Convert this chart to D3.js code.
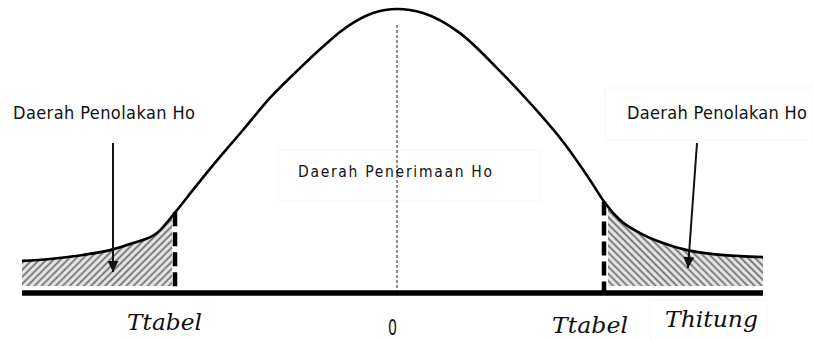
<!DOCTYPE html>
<html>
<head>
<meta charset="utf-8">
<script src="https://cdn.jsdelivr.net/npm/d3@7"></script>
<style>
  html, body { margin: 0; padding: 0; background: #ffffff; }
  svg { display: block; }
  .lbl { font-family: "DejaVu Sans Condensed", "DejaVu Sans", sans-serif; font-stretch: condensed; fill: #111; }
  .math { font-family: "DejaVu Serif", serif; font-style: italic; fill: #111; }
</style>
</head>
<body>
<svg id="chart" width="814" height="339"></svg>
<script>
// t-statistic positions along the horizontal axis
const tValues = [-3.75, -3.47, -3.14, -2.87, -2.64, -2.40, -2.20, -2.04, -1.87, -1.54, -1.27, -0.97, -0.70, -0.57, -0.44, -0.24, 0,
                 0.26, 0.63, 1.00, 1.33, 1.67, 1.93, 2.08, 2.23, 2.43, 2.66, 2.90, 3.16, 3.43, 3.66];
// relative height of the distribution curve at each t
const density = [0.113, 0.120, 0.134, 0.151, 0.176, 0.211, 0.292, 0.363, 0.437, 0.574, 0.687, 0.792, 0.880, 0.919, 0.951, 0.986, 1.000,
                 0.986, 0.915, 0.792, 0.669, 0.528, 0.398, 0.317, 0.257, 0.211, 0.176, 0.151, 0.137, 0.130, 0.127];

// critical values (left and right)
const criticalT = [-2.22, 2.07];
const tickLabels = ["Ttabel", "0", "Ttabel", "Thitung"];
const tickPositions = [-2.70, -0.09, 1.55, 2.68];
const regionLabels = ["Daerah Penolakan Ho", "Daerah Penerimaan Ho", "Daerah Penolakan Ho"];
const regionLabelPos = [[-3.84, 0.613], [-0.99, 0.408], [2.30, 0.613]];
// arrows pointing into the rejection regions: [tStart, hStart, tEnd, hEnd]
const arrows = [[-2.84, 0.528, -2.84, 0.074], [3.00, 0.528, 2.91, 0.088]];

const svg = d3.select("#chart");
const x = d3.scaleLinear().domain([-3.75, 3.67]).range([22, 764]);
const y = d3.scaleLinear().domain([0, 1]).range([293, 9]);

const pts = tValues.map((t, i) => [t, density[i]]);
const heightAt = t => {
  const i = d3.bisector(d => d[0]).right(pts, t);
  const a = pts[Math.max(0, i - 1)], b = pts[Math.min(pts.length - 1, i)];
  if (a[0] === b[0]) return a[1];
  return a[1] + (b[1] - a[1]) * (t - a[0]) / (b[0] - a[0]);
};

const defs = svg.append("defs");
function hatch(id, angle) {
  const p = defs.append("pattern").attr("id", id)
    .attr("patternUnits", "userSpaceOnUse").attr("width", 5).attr("height", 5)
    .attr("patternTransform", `rotate(${angle})`);
  p.append("rect").attr("width", 5).attr("height", 5).attr("fill", "#e8e8e8");
  p.append("line").attr("x1", 1.5).attr("y1", 0).attr("x2", 1.5).attr("y2", 5)
    .attr("stroke", "#666").attr("stroke-width", 1.7);
}
hatch("hatchL", 45);
hatch("hatchR", -45);

defs.append("clipPath").attr("id", "clipL").append("rect")
  .attr("x", x(-3.75)).attr("y", 0).attr("width", x(criticalT[0]) - x(-3.75) - 3).attr("height", 339);
defs.append("clipPath").attr("id", "clipR").append("rect")
  .attr("x", x(criticalT[1]) + 4).attr("y", 0).attr("width", x(3.66) - x(criticalT[1]) - 4).attr("height", 339);

const marker = defs.append("marker").attr("id", "head")
  .attr("viewBox", "0 0 10 10").attr("refX", 10).attr("refY", 5)
  .attr("markerUnits", "userSpaceOnUse").attr("markerWidth", 14).attr("markerHeight", 11)
  .attr("orient", "auto");
marker.append("path").attr("d", "M0,0 L10,5 L0,10 Z").attr("fill", "#111");

// faint panels behind some labels
const panels = [[-1.19, 0.504, 1.43, 0.324], [2.08, 0.722, 4.17, 0.539], [2.53, -0.025, 3.70, -0.162]];
svg.append("g").selectAll("rect").data(panels).join("rect")
  .attr("x", d => x(d[0])).attr("y", d => y(d[1]))
  .attr("width", d => x(d[2]) - x(d[0])).attr("height", d => y(d[3]) - y(d[1]))
  .attr("fill", "none").attr("stroke", "#f7f7f7").attr("stroke-width", 1);

// shaded rejection regions
const area = d3.area().x(d => x(d[0])).y0(y(0.025)).y1(d => y(d[1])).curve(d3.curveMonotoneX);
svg.append("path").datum(pts).attr("d", area).attr("fill", "url(#hatchL)").attr("clip-path", "url(#clipL)");
svg.append("path").datum(pts).attr("d", area).attr("fill", "url(#hatchR)").attr("clip-path", "url(#clipR)");

// centre line at t = 0
svg.append("line")
  .attr("x1", x(0)).attr("x2", x(0)).attr("y1", y(0.944)).attr("y2", y(0))
  .attr("stroke", "#555").attr("stroke-width", 1.3).attr("stroke-dasharray", "3,2");

// critical value markers
svg.append("g").selectAll("line").data(criticalT).join("line")
  .attr("x1", d => x(d)).attr("x2", d => x(d))
  .attr("y1", d => y(heightAt(d))).attr("y2", y(0))
  .attr("stroke", "#000").attr("stroke-width", 4.5).attr("stroke-dasharray", "14,6");

// distribution curve
const line = d3.line().x(d => x(d[0])).y(d => y(d[1])).curve(d3.curveMonotoneX);
svg.append("path").datum(pts).attr("d", line)
  .attr("fill", "none").attr("stroke", "#000").attr("stroke-width", 2.6);

// horizontal axis
svg.append("line")
  .attr("x1", x(-3.75)).attr("x2", x(3.66)).attr("y1", y(0)).attr("y2", y(0))
  .attr("stroke", "#000").attr("stroke-width", 5.5);

// arrows
svg.append("g").selectAll("line").data(arrows).join("line")
  .attr("x1", d => x(d[0])).attr("y1", d => y(d[1]))
  .attr("x2", d => x(d[2])).attr("y2", d => y(d[3]))
  .attr("stroke", "#111").attr("stroke-width", 2).attr("marker-end", "url(#head)");

// region labels
const regionSizes = [18, 15.5, 18];
const regionWidths = [182, 194, 180];
svg.append("g").selectAll("text").data(regionLabels).join("text")
  .attr("class", "lbl")
  .attr("x", (d, i) => x(regionLabelPos[i][0]))
  .attr("y", (d, i) => y(regionLabelPos[i][1]))
  .attr("font-size", (d, i) => regionSizes[i])
  .attr("textLength", (d, i) => regionWidths[i])
  .attr("lengthAdjust", "spacing")
  .text(d => d);

// axis labels
const tickBase = [330, 335, 333, 327];
const tickWidths = [75, 9, 76, 93];
svg.append("g").selectAll("text").data(tickLabels).join("text")
  .attr("class", (d, i) => i === 1 ? "lbl" : "math")
  .attr("x", (d, i) => x(tickPositions[i]))
  .attr("y", (d, i) => tickBase[i])
  .attr("font-size", (d, i) => i === 1 ? 22 : 22)
  .attr("textLength", (d, i) => tickWidths[i])
  .attr("lengthAdjust", "spacingAndGlyphs")
  .text(d => d);
</script>
</body>
</html>
